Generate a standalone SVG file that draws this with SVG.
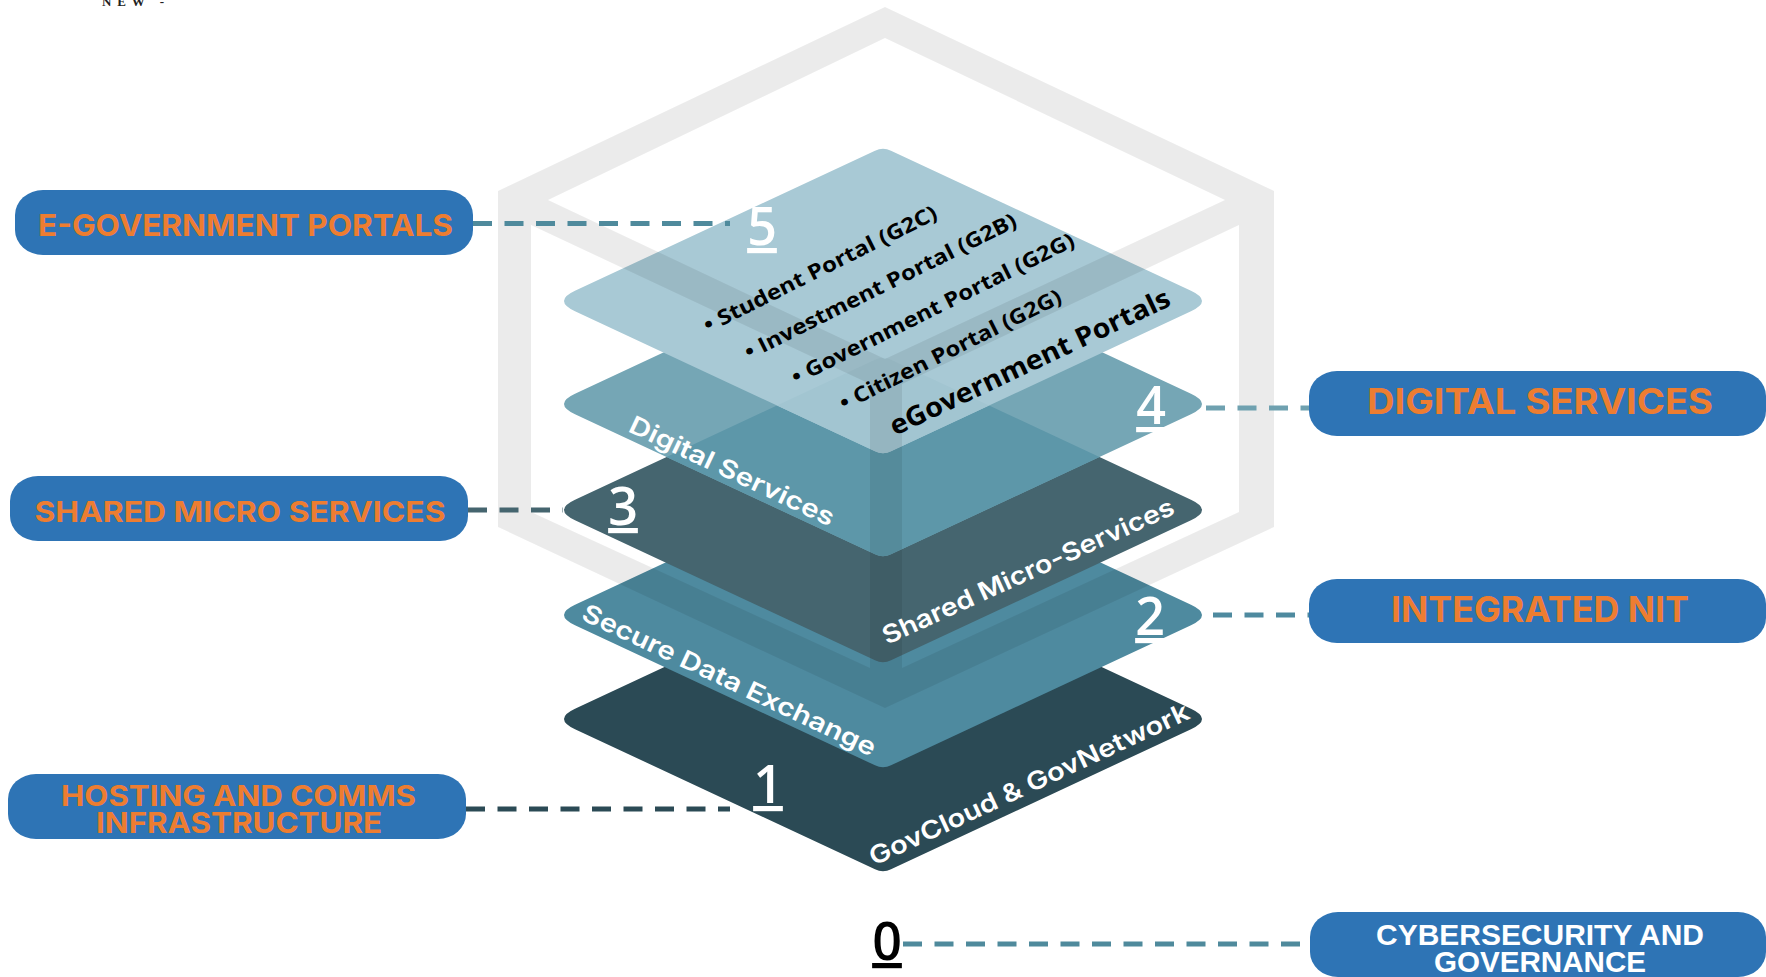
<svg xmlns="http://www.w3.org/2000/svg" width="1766" height="977" viewBox="0 0 1766 977">
<style>
.pill{fill:#2e74b5}
.lab{font-family:"Inter","Liberation Sans",sans-serif;font-weight:700;fill:#ed7d31}
.cy{font-family:"Liberation Sans",sans-serif;font-weight:700;fill:#fff;font-size:30px}
.w{font-family:"Inter","Open Sans",sans-serif;font-weight:600;fill:#fff;font-size:25px}
.k{font-family:"Open Sans","Liberation Sans",sans-serif;font-weight:700;fill:#000;font-size:21px}
.n{font-family:"Open Sans","Liberation Sans",sans-serif;font-weight:600;font-size:52px;fill:#fff;text-decoration:underline;text-decoration-thickness:2.5px;text-underline-offset:1px;text-anchor:middle}
.c{fill:none;stroke-width:5;stroke-dasharray:19 12.5}
</style>
<defs>
<path id="d" d="M-8,-150.3Q0,-154 8,-150.3L308,-10.2Q330,0 308,10.2L8,150.3Q0,154 -8,150.3L-308,10.2Q-330,0 -308,-10.2Z"/>
<clipPath id="c4"><use href="#d" transform="translate(883,404)"/></clipPath>
<clipPath id="c5"><use href="#d" transform="translate(883,301)"/></clipPath>
</defs>
<rect width="1766" height="977" fill="#fff"/>
<text x="102" y="6" font-family="Liberation Serif,serif" font-weight="700" font-size="13" fill="#222" textLength="62" lengthAdjust="spacing">NEW -</text>
<g id="layer1">
<use href="#d" transform="translate(883,719)" fill="#2b4a55"/>
</g>
<g id="layer2">
<use href="#d" transform="translate(883,615)" fill="#4e8a9f"/>
</g>
<g id="layer3">
<use href="#d" transform="translate(883,510)" fill="#45656f"/>
</g>
<g id="layer4">
<use href="#d" transform="translate(883,404)" fill="#75a6b5"/>
<g clip-path="url(#c4)"><use href="#d" transform="translate(883,510)" fill="#5d97a9"/></g>
</g>
<g id="layer5">
<use href="#d" transform="translate(883,301)" fill="#a8c9d5"/>
<g clip-path="url(#c5)"><use href="#d" transform="translate(883,510)" fill="#a2c5d1"/></g>
</g>
<g id="hexagon">
<path fill="#000" fill-opacity=".078" fill-rule="evenodd" d="M885,7L1274,191V527L885,708L498,527V191Z M885,38L548,200L885,359L1225,200Z M531,225V512L870,668V384Z M1239,225V512L902,668V384Z"/>
</g>
<g id="layer-text">
<text class="w" transform="translate(627,431) rotate(25.3)" textLength="224" lengthAdjust="spacingAndGlyphs">Digital Services</text>
<text class="w" transform="translate(887,645) rotate(-24.5)" textLength="318" lengthAdjust="spacingAndGlyphs">Shared Micro-Services</text>
<text class="w" transform="translate(580,619) rotate(25.3)" textLength="322" lengthAdjust="spacingAndGlyphs">Secure Data Exchange</text>
<text class="w" transform="translate(874,866) rotate(-25)" textLength="350" lengthAdjust="spacingAndGlyphs">GovCloud &amp; GovNetwork</text>
<text class="k" transform="translate(708,333) rotate(-26.5)" textLength="258" lengthAdjust="spacingAndGlyphs">• Student Portal (G2C)</text>
<text class="k" transform="translate(749,360) rotate(-26.5)" textLength="301" lengthAdjust="spacingAndGlyphs">• Investment Portal (G2B)</text>
<text class="k" transform="translate(796,385) rotate(-26.5)" textLength="313" lengthAdjust="spacingAndGlyphs">• Government Portal (G2G)</text>
<text class="k" transform="translate(844,411) rotate(-26.5)" textLength="245" lengthAdjust="spacingAndGlyphs">• Citizen Portal (G2G)</text>
<text class="k" style="font-size:27px" transform="translate(895,436) rotate(-25.3)" textLength="307" lengthAdjust="spacingAndGlyphs">eGovernment Portals</text>
<text class="n" x="762" y="245">5</text>
<text class="n" x="1151" y="424">4</text>
<text class="n" x="623" y="525">3</text>
<text class="n" x="1150" y="635">2</text>
<text class="n" x="768" y="803">1</text>
<text class="n" x="887" y="960" style="fill:#000">0</text>
</g>
<g id="connectors">
<path class="c" stroke="#4f8a9c" d="M473,223.5H730"/>
<path class="c" stroke="#6fa1b0" d="M1203,408H1309" stroke-dashoffset="-3"/>
<path class="c" stroke="#45656f" d="M468,510H563"/>
<path class="c" stroke="#4e8a9f" d="M1213,615H1309"/>
<path class="c" stroke="#2b4a55" d="M466,809H730"/>
<path class="c" stroke="#4f8a9c" d="M903,944H1310"/>
</g>
<g id="node-egov"><rect class="pill" x="15" y="190" width="458" height="65" rx="28" ry="25"/>
<text class="lab" x="38" y="236" font-size="30" textLength="415" lengthAdjust="spacingAndGlyphs">E-GOVERNMENT PORTALS</text></g>
<g id="node-shared"><rect class="pill" x="10" y="476" width="458" height="65" rx="28" ry="25"/>
<text class="lab" x="34.5" y="522" font-size="29" textLength="411" lengthAdjust="spacingAndGlyphs">SHARED MICRO SERVICES</text></g>
<g id="node-hosting"><rect class="pill" x="8" y="774" width="458" height="65" rx="28" ry="25"/>
<text class="lab" x="61" y="806" font-size="28" textLength="355" lengthAdjust="spacingAndGlyphs">HOSTING AND COMMS</text>
<text class="lab" x="96" y="833" font-size="28" textLength="286" lengthAdjust="spacingAndGlyphs">INFRASTRUCTURE</text></g>
<g id="node-digital"><rect class="pill" x="1309" y="371" width="457" height="65" rx="28" ry="25"/>
<text class="lab" x="1367" y="414" font-size="35" textLength="346" lengthAdjust="spacingAndGlyphs">DIGITAL SERVICES</text></g>
<g id="node-nit"><rect class="pill" x="1309" y="579" width="457" height="64" rx="28" ry="25"/>
<text class="lab" x="1391" y="622" font-size="35" textLength="298" lengthAdjust="spacingAndGlyphs">INTEGRATED NIT</text></g>
<g id="node-cyber"><rect class="pill" x="1310" y="912" width="456" height="65" rx="28" ry="25"/>
<text class="cy" x="1376" y="945" textLength="328" lengthAdjust="spacingAndGlyphs">CYBERSECURITY AND</text>
<text class="cy" x="1434" y="972" textLength="212" lengthAdjust="spacingAndGlyphs">GOVERNANCE</text></g>
</svg>
